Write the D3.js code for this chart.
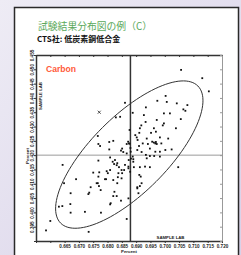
<!DOCTYPE html>
<html>
<head>
<meta charset="utf-8">
<script src="https://cdn.jsdelivr.net/npm/d3@7"></script>
<style>
  html, body { margin: 0; padding: 0; background: #e4e0ee; }
  svg { display: block; }
</style>
</head>
<body>
<svg id="chart"></svg>
<script>
// data
let title = "試験結果分布図の例（C）";
let subtitle = "CTS社: 低炭素鋼低合金";
let element = "Carbon";
let axisName = "SAMPLE LAB";
let unitName = "Percent";

let xTicks = [0.655, 0.660, 0.665, 0.670, 0.675, 0.680, 0.685, 0.690, 0.695, 0.700, 0.705, 0.710, 0.715, 0.720];
let xTickLabels = ["", "", "0.665", "0.670", "0.675", "0.680", "0.685", "0.690", "0.695", "0.700", "0.705", "0.710", "0.715", "0.720"];
let yTicks = [0.390, 0.395, 0.400, 0.405, 0.410, 0.415, 0.420, 0.425, 0.430, 0.435, 0.440, 0.445, 0.450, 0.455];
let yTickLabels = ["", "0.395", "0.400", "0.405", "0.410", "0.415", "0.420", "0.425", "0.430", "0.435", "0.440", "0.445", "0.450", "0.455"];

let refX = 0.688;   // vertical line
let refY = 0.420;   // horizontal line

// ellipse: centre, semi axes (data units), angle
let ellCx = 0.6876, ellCy = 0.4202, ellA = 0.0339, ellB = 0.0133, ellAngle = 45;

let xVals = [
 0.7057,0.7131,0.7154,0.6861,0.7003,0.6974,0.7007,0.7042,0.7079,0.6934,
 0.7065,0.7072,0.6888,0.6997,0.7018,0.6844,0.6927,0.6829,0.7056,0.6972,
 0.6933,0.6997,0.6993,0.6918,0.6913,0.6962,0.7039,0.6877,0.6969,0.6952,
 0.6911,0.6897,0.6766,0.6902,0.6937,0.6983,0.7012,0.6820,0.6806,0.6905,
 0.6872,0.6956,0.6962,0.6967,0.6969,0.6972,0.6768,0.6774,0.6923,0.6941,
 0.6988,0.6867,0.6875,0.6910,0.6806,0.6851,0.6847,0.6855,0.6948,0.7002,
 0.7024,0.6881,0.6904,0.6919,0.6967,0.6983,0.6867,0.6934,0.6948,0.6963,
 0.6983,0.6888,0.6882,0.6890,0.6874,0.6809,0.6826,0.6768,0.6643,0.7047,
 0.6913,0.6948,0.6892,0.6823,0.6832,0.6840,0.6809,0.6797,0.6858,0.6873,
 0.6851,0.6750,0.6771,0.6791,0.6836,0.6849,0.6916,0.6690,0.6766,0.6770,
 0.6741,0.6904,0.6913,0.6824,0.6776,0.6671,0.6733,0.6908,0.6820,0.6832,
 0.6873,0.6847,0.6811,0.6670,0.6648,0.6630,0.6642,0.6671,0.6600,0.6585,
 0.6721,0.6734,0.6777,0.6809,0.6867,0.6736,0.6890,0.6873,0.6879,0.6818,
 0.6834,0.6861,0.6849,0.6801,0.6838,0.6768,0.6762,0.6795,0.6820,0.6834,
 0.6904,0.6919,0.6911,0.6931,0.6937,0.6877,0.6880
];
let yVals = [
 0.4498,0.4469,0.4423,0.4383,0.4407,0.4390,0.4386,0.4381,0.4375,0.4367,
 0.4360,0.4355,0.4348,0.4346,0.4346,0.4334,0.4340,0.4332,0.4326,0.4323,
 0.4316,0.4311,0.4304,0.4304,0.4294,0.4294,0.4294,0.4288,0.4282,0.4278,
 0.4278,0.4270,0.4267,0.4262,0.4258,0.4262,0.4258,0.4250,0.4246,0.4253,
 0.4247,0.4247,0.4244,0.4241,0.4246,0.4239,0.4239,0.4232,0.4241,0.4239,
 0.4241,0.4239,0.4241,0.4232,0.4220,0.4223,0.4216,0.4211,0.4223,0.4218,
 0.4220,0.4212,0.4218,0.4211,0.4212,0.4212,0.4206,0.4201,0.4197,0.4197,
 0.4195,0.4195,0.4188,0.4186,0.4183,0.4192,0.4183,0.4181,0.4166,0.4158,
 0.4158,0.4158,0.4158,0.4169,0.4165,0.4158,0.4148,0.4144,0.4148,0.4154,
 0.4137,0.4139,0.4140,0.4116,0.4123,0.4119,0.4125,0.4116,0.4102,0.4092,
 0.4088,0.4088,0.4092,0.4072,0.4078,0.4067,0.4064,0.4067,0.4057,0.4057,
 0.4049,0.4041,0.4032,0.4029,0.4102,0.4020,0.4022,0.3999,0.3970,0.3937,
 0.4002,0.3932,0.3999,0.4028,0.3977,0.4069,0.4177,0.4160,0.4142,0.4177,
 0.4172,0.4166,0.4148,0.4137,0.4137,0.4125,0.4102,0.4116,0.4113,0.4102,
 0.4084,0.4102,0.4131,0.4160,0.4189,0.4240,0.4225
];
// the single point drawn as a cross
let crossX = [0.6771];
let crossY = [0.4350];

let width = 241;
let height = 255;
let plotLeft = 36, plotRight = 222, plotTop = 55, plotBottom = 241;

let svg = d3.select("#chart").attr("width", width).attr("height", height);

let defs = svg.append("defs");
let grad = defs.append("linearGradient").attr("id", "bg").attr("x1", 0).attr("y1", 0).attr("x2", 1).attr("y2", 1);
grad.append("stop").attr("offset", "0%").attr("stop-color", "#eeecf5");
grad.append("stop").attr("offset", "100%").attr("stop-color", "#d8d1e8");

svg.append("rect").attr("width", width).attr("height", height).attr("fill", "url(#bg)");

// white panel
svg.append("rect")
   .attr("x", 14.5).attr("y", 7.5)
   .attr("width", 224).attr("height", 260)
   .attr("fill", "#ffffff")
   .attr("stroke", "#2a2a2a")
   .attr("stroke-width", 1.5);

svg.append("text")
   .attr("x", 38).attr("y", 30)
   .attr("font-family", "'Noto Sans CJK JP', sans-serif")
   .attr("font-size", 9.8)
   .attr("fill", "#5aa85a")
   .text(title);

svg.append("text")
   .attr("x", 37).attr("y", 42)
   .attr("font-family", "'Noto Sans CJK JP', sans-serif")
   .attr("font-size", 8)
   .attr("font-weight", "bold")
   .attr("fill", "#111")
   .text(subtitle);

let xScale = d3.scaleLinear().domain([0.655, 0.720]).range([plotLeft, plotRight]);
let yScale = d3.scaleLinear().domain([0.390, 0.455]).range([plotBottom, plotTop]);

// reference lines
svg.append("line")
   .attr("x1", plotLeft).attr("x2", plotRight)
   .attr("y1", yScale(refY)).attr("y2", yScale(refY))
   .attr("stroke", "#9a9a9a").attr("stroke-width", 1);

svg.append("line")
   .attr("x1", xScale(refX)).attr("x2", xScale(refX))
   .attr("y1", plotTop).attr("y2", plotBottom)
   .attr("stroke", "#333").attr("stroke-width", 1.5);

// axes
let fmtX = (d, i) => xTickLabels[i];
let fmtY = (d, i) => yTickLabels[i];

let styleAxis = (g, col) => {
    g.select(".domain").attr("stroke", col);
    g.selectAll(".tick line").attr("stroke", col);
    g.selectAll("text")
     .attr("font-family", "'Liberation Sans', Arial, sans-serif")
     .attr("font-size", 4.6)
     .attr("font-weight", "bold")
     .attr("fill", "#222");
};

let xAxis = svg.append("g")
   .attr("transform", "translate(0," + plotBottom + ")")
   .call(d3.axisBottom(xScale).tickValues(xTicks).tickFormat(fmtX).tickSize(2).tickSizeOuter(0).tickPadding(1.5));
styleAxis(xAxis, "#333");
xAxis.select(".domain").attr("stroke-width", 1.5);

let yAxis = svg.append("g")
   .attr("transform", "translate(" + plotLeft + ",0)")
   .call(d3.axisLeft(yScale).tickValues(yTicks).tickFormat(fmtY).tickSize(2).tickSizeOuter(0).tickPadding(1.5));
styleAxis(yAxis, "#333");
yAxis.select(".domain").attr("stroke-width", 1.5);
yAxis.selectAll(".tick text")
   .attr("text-anchor", "middle")
   .attr("dy", 0)
   .attr("x", 0)
   .attr("transform", "translate(-2.5,0) rotate(-90)");

let topAxis = svg.append("g")
   .attr("transform", "translate(0," + plotTop + ")")
   .call(d3.axisTop(xScale).tickValues(xTicks).tickFormat("").tickSize(-2).tickSizeOuter(0));
styleAxis(topAxis, "#333");
topAxis.select(".domain").attr("stroke-width", 1.5);

let rightAxis = svg.append("g")
   .attr("transform", "translate(" + plotRight + ",0)")
   .call(d3.axisRight(yScale).tickValues(yTicks).tickFormat("").tickSize(-2).tickSizeOuter(0));
styleAxis(rightAxis, "#999");

// axis names
let smallText = (x, y, txt, rot) => {
    let t = svg.append("text")
       .attr("font-family", "'Liberation Sans', Arial, sans-serif")
       .attr("font-size", 4.3)
       .attr("font-weight", "bold")
       .attr("fill", "#222")
       .attr("text-anchor", "middle")
       .text(txt);
    if (rot) t.attr("transform", "translate(" + x + "," + y + ") rotate(-90)");
    else t.attr("x", x).attr("y", y);
};
smallText(170.5, 239, axisName, false);
smallText(129, 252.5, unitName, false);
smallText(41.5, 96, axisName, true);
smallText(28.5, 156, unitName, true);

svg.append("text")
   .attr("x", 46).attr("y", 71.5)
   .attr("font-family", "'Liberation Sans', Arial, sans-serif")
   .attr("font-size", 8.6)
   .attr("font-weight", "bold")
   .attr("fill", "#ff5a3a")
   .text(element);

// ellipse
let rad = ellAngle * Math.PI / 180;
let ellPts = d3.range(0, 361, 3).map(deg => {
    let t = deg * Math.PI / 180;
    let u = ellA * Math.cos(t), v = ellB * Math.sin(t);
    return [ellCx + u * Math.cos(rad) - v * Math.sin(rad), ellCy + u * Math.sin(rad) + v * Math.cos(rad)];
});
svg.append("path")
   .attr("d", d3.line().x(p => xScale(p[0])).y(p => yScale(p[1])).curve(d3.curveLinearClosed)(ellPts))
   .attr("fill", "none")
   .attr("stroke", "#333")
   .attr("stroke-width", 1);

// points
svg.selectAll("rect.pt")
   .data(xVals.map((x, i) => [x, yVals[i]]))
   .enter()
   .append("rect")
   .attr("class", "pt")
   .attr("x", d => xScale(d[0]) - 0.9)
   .attr("y", d => yScale(d[1]) - 0.9)
   .attr("width", 1.8)
   .attr("height", 1.8)
   .attr("fill", "#111");

crossX.forEach((cx, i) => {
    let px = xScale(cx), py = yScale(crossY[i]);
    svg.append("path")
       .attr("d", "M" + (px - 1.5) + "," + (py - 1.5) + "L" + (px + 1.5) + "," + (py + 1.5) +
                  "M" + (px - 1.5) + "," + (py + 1.5) + "L" + (px + 1.5) + "," + (py - 1.5))
       .attr("stroke", "#222").attr("stroke-width", 0.8);
});
</script>
</body>
</html>
